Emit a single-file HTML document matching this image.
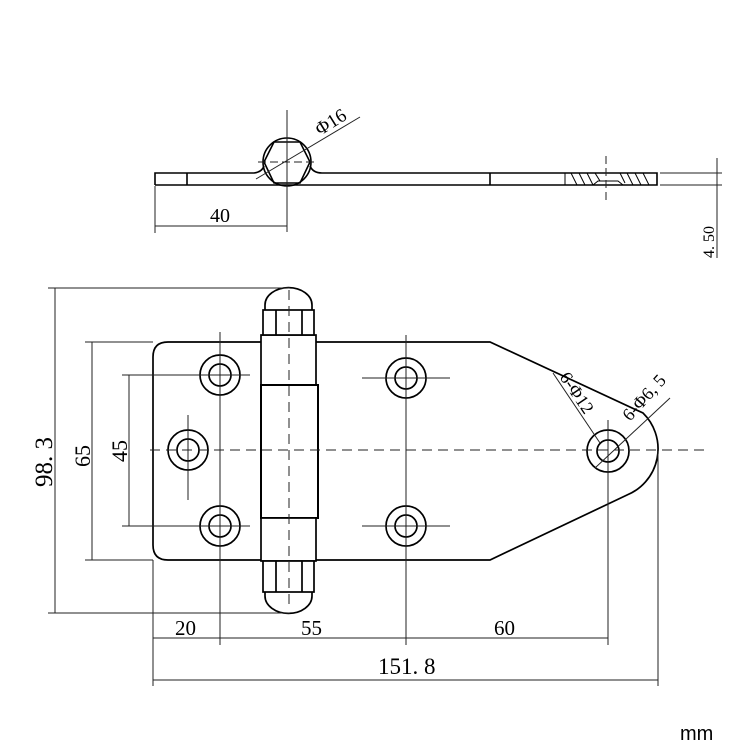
<!DOCTYPE html>
<html><head><meta charset="utf-8"><style>
html,body{margin:0;padding:0;background:#fff;}
svg{display:block;}
text{font-family:"Liberation Serif",serif;fill:#000;}
</style></head><body>
<svg width="750" height="750" viewBox="0 0 750 750" xmlns="http://www.w3.org/2000/svg">
<g fill="none" stroke="#000" stroke-width="1.6">
<!-- TOP VIEW -->
<path d="M155 185 V173 H254 Q262 172 264 166"/>
<path d="M310 166 Q313 173 322 173 H657 V185 H155"/>
<line x1="187" y1="173" x2="187" y2="185"/>
<line x1="490" y1="173" x2="490" y2="185"/>
<circle cx="287" cy="162" r="24"/>
<polygon points="274,142 300,142 310,162 300,183 274,183 264,162"/>
<path d="M593 185 L598 181 H618 L623 185" stroke-width="1"/>
</g>
<g stroke="#000" stroke-width="1" fill="none">
<line x1="565" y1="173" x2="565" y2="185"/>
<line x1="571" y1="173" x2="577" y2="185"/><line x1="579" y1="173" x2="585" y2="185"/><line x1="587" y1="173" x2="593" y2="185"/><line x1="595" y1="173" x2="600" y2="181"/>
<line x1="627" y1="173" x2="633" y2="185"/><line x1="635" y1="173" x2="641" y2="185"/><line x1="643" y1="173" x2="649" y2="185"/><line x1="620" y1="173" x2="625" y2="183"/>
</g>
<g stroke="#222" stroke-width="1" fill="none">
<line x1="287" y1="110" x2="287" y2="232"/>
<line x1="258" y1="162" x2="316" y2="162" stroke-dasharray="8,4"/>
<line x1="606" y1="156" x2="606" y2="200" stroke-dasharray="8,4"/>
<line x1="155" y1="186" x2="155" y2="233"/>
<line x1="155" y1="226" x2="287" y2="226"/>
<line x1="256" y1="179" x2="360" y2="117"/>
<line x1="660" y1="173" x2="722" y2="173"/><line x1="660" y1="185" x2="722" y2="185"/>
<line x1="717" y1="158" x2="717" y2="258"/>
</g>
<text x="210" y="222" font-size="20">40</text>
<text x="0" y="0" font-size="19" transform="translate(320,136) rotate(-32)">Φ16</text>
<text x="0" y="0" font-size="16" transform="translate(714,258) rotate(-90)">4. 50</text>

<!-- FRONT VIEW plate -->
<g fill="none" stroke="#000" stroke-width="1.7">
<path d="M168 342 H490 L643 413 A50 50 0 0 1 627 495 L490 560 H168 Q153 560 153 545 V357 Q153 342 168 342 Z"/>
<rect x="261" y="335" width="55" height="50" fill="#fff"/>
<rect x="261" y="385" width="57" height="133" fill="#fff" stroke-width="2"/>
<rect x="261" y="518" width="55" height="43" fill="#fff"/>
<rect x="263" y="310" width="51" height="25" fill="#fff"/>
<rect x="263" y="561" width="51" height="31" fill="#fff"/>
<path d="M265 310 V305 A23 17 0 0 1 312 305 V310"/>
<path d="M265 592 V596 A23 17 0 0 0 312 596 V592"/>
<line x1="276" y1="310" x2="276" y2="335"/><line x1="302" y1="310" x2="302" y2="335"/>
<line x1="276" y1="561" x2="276" y2="592"/><line x1="302" y1="561" x2="302" y2="592"/>
<circle cx="220" cy="375" r="20"/><circle cx="220" cy="375" r="11"/>
<circle cx="188" cy="450" r="20"/><circle cx="188" cy="450" r="11"/>
<circle cx="220" cy="526" r="20"/><circle cx="220" cy="526" r="11"/>
<circle cx="406" cy="378" r="20"/><circle cx="406" cy="378" r="11"/>
<circle cx="406" cy="526" r="20"/><circle cx="406" cy="526" r="11"/>
<circle cx="608" cy="451" r="21"/><circle cx="608" cy="451" r="11"/>
</g>
<g stroke="#222" stroke-width="1" fill="none">
<line x1="150" y1="450" x2="705" y2="450" stroke-dasharray="10,6"/>
<line x1="289" y1="290" x2="289" y2="610" stroke-dasharray="10,6"/>
<line x1="220" y1="332" x2="220" y2="645"/><line x1="190" y1="375" x2="250" y2="375"/>
<line x1="188" y1="415" x2="188" y2="500"/>
<line x1="200" y1="526" x2="250" y2="526"/>
<line x1="406" y1="335" x2="406" y2="645"/><line x1="362" y1="378" x2="450" y2="378"/><line x1="362" y1="526" x2="450" y2="526"/>
<line x1="608" y1="420" x2="608" y2="645"/>
<line x1="658" y1="451" x2="658" y2="686"/>
<line x1="153" y1="560" x2="153" y2="686"/>
<line x1="48" y1="288" x2="290" y2="288"/><line x1="48" y1="613" x2="290" y2="613"/>
<line x1="55" y1="288" x2="55" y2="613"/>
<line x1="85" y1="342" x2="153" y2="342"/><line x1="85" y1="560" x2="153" y2="560"/>
<line x1="92" y1="342" x2="92" y2="560"/>
<line x1="122" y1="375" x2="220" y2="375"/><line x1="122" y1="526" x2="220" y2="526"/>
<line x1="129" y1="375" x2="129" y2="526"/>
<line x1="153" y1="638" x2="608" y2="638"/>
<line x1="153" y1="680" x2="658" y2="680"/>
<line x1="553" y1="373" x2="600" y2="443"/>
<line x1="595" y1="468" x2="670" y2="398"/>
</g>
<text x="0" y="0" font-size="25" transform="translate(52,487) rotate(-90)">98. 3</text>
<text x="0" y="0" font-size="22" transform="translate(90,467) rotate(-90)">65</text>
<text x="0" y="0" font-size="22" transform="translate(127,462) rotate(-90)">45</text>
<text x="175" y="635" font-size="21">20</text>
<text x="301" y="635" font-size="21">55</text>
<text x="494" y="635" font-size="21">60</text>
<text x="378" y="674" font-size="23">151. 8</text>
<text x="0" y="0" font-size="18" transform="translate(559,377) rotate(56)">6-Φ12</text>
<text x="0" y="0" font-size="18" transform="translate(630,422) rotate(-48)">6-Φ6, 5</text>
<text x="680" y="740" font-size="20" style="font-family:'Liberation Sans',sans-serif">mm</text>
</svg>
</body></html>
